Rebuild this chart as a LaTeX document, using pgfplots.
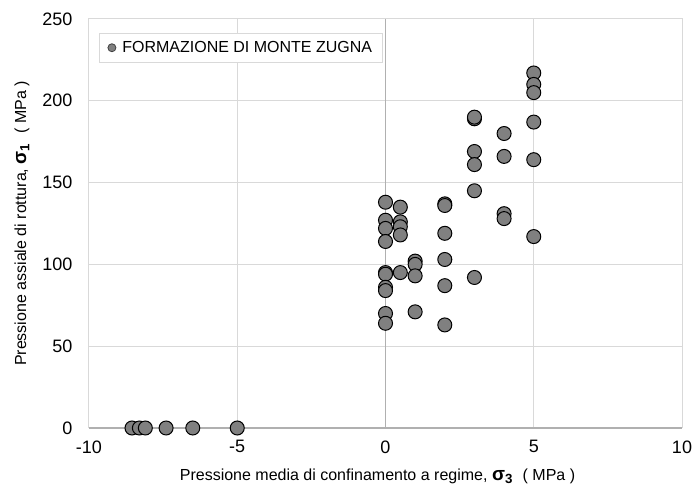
\documentclass[border=0pt]{standalone}
\usepackage{fontspec}
\setmainfont{Liberation Sans}
\usepackage{pgfplots}
\pgfplotsset{compat=1.18}
\definecolor{ptfill}{HTML}{808080}
\definecolor{gridc}{HTML}{D9D9D9}
\definecolor{zeroc}{HTML}{B0B0B0}
\begin{document}
\begin{tikzpicture}
\begin{axis}[
  scale only axis, width=593pt, height=409pt,
  xmin=-10, xmax=10, ymin=0, ymax=250,
  xtick={-10,-5,0,5,10}, ytick={0,50,100,150,200,250},
  /pgf/number format/assume math mode=true,
  major tick length=0pt,
  grid=major,
  grid style={color=gridc, line width=1pt},
  axis line style={color=gridc, line width=1pt},
  extra x ticks={0}, extra x tick labels={},
  extra y ticks={0}, extra y tick labels={},
  extra x tick style={grid style={color=zeroc, line width=1.2pt}},
  extra y tick style={grid style={color=zeroc, line width=2pt}},
  tick label style={font=\fontsize{18}{18}\selectfont, text=black},
  yticklabel style={xshift=-13pt},
  xticklabel style={yshift=-9pt},
  xlabel={Pressione media di confinamento a regime, {\fontsize{19}{19}\selectfont\textbf{σ\textsubscript{3}}}\,\, ( MPa )},
  ylabel={Pressione assiale di rottura, {\fontsize{19}{19}\selectfont\textbf{σ\textsubscript{1}}}\,\, ( MPa )},
  label style={font=\fontsize{16}{16}\selectfont},
  xlabel style={at={(axis description cs:0.5,0)}, anchor=center, yshift=-48pt, xshift=-8pt},
  ylabel style={at={(axis description cs:0,0.5)}, anchor=center, yshift=67pt},
  legend style={at={(axis description cs:0.0169,0.966)}, anchor=north west,
    draw=gridc, line width=1pt, fill=white, font=\fontsize{16}{16}\selectfont,
    inner xsep=8pt, inner ysep=6pt},
  legend image code/.code={\draw[fill=ptfill, draw=black!75, line width=0.8pt] (0.42cm,0cm) circle (4pt);},
  legend cell align=left,
]
\addplot[only marks, mark=*, mark size=7pt, mark options={fill=ptfill, draw=black, line width=1pt}]
coordinates {
(-8.55,0) (-8.3,0) (-8.1,0) (-7.4,0) (-6.5,0) (-5,0)
(0,138) (0,127) (0,122) (0,114) (0,95) (0,94) (0,86) (0,84) (0,70) (0,64)
(0.5,135) (0.5,126) (0.5,123) (0.5,118) (0.5,95)
(1,102) (1,100) (1,93) (1,71)
(2,137) (2,136) (2,119) (2,103) (2,87) (2,63)
(3,189) (3,190) (3,169) (3,161) (3,145) (3,92)
(4,180) (4,166) (4,131) (4,128)
(5,217) (5,210) (5,205) (5,187) (5,164) (5,117)
};
\addlegendentry{\hspace{4pt}FORMAZIONE DI MONTE ZUGNA}
\end{axis}
\pgfresetboundingbox
\useasboundingbox ([shift={(-89pt,-60pt)}]current axis.south west) rectangle ([shift={(11pt,19pt)}]current axis.north east);
\end{tikzpicture}
\end{document}
